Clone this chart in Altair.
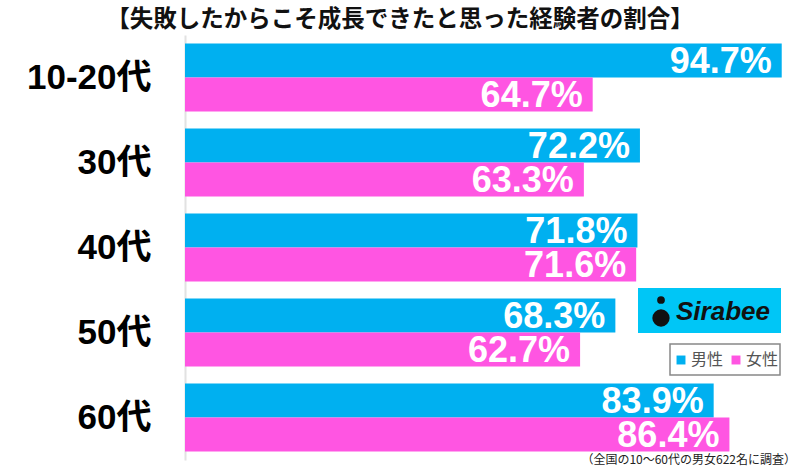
import altair as alt
import pandas as pd

categories = ["10-20代", "30代", "40代", "50代", "60代"]
male = [94.7, 72.2, 71.8, 68.3, 83.9]
female = [64.7, 63.3, 71.6, 62.7, 86.4]
series = ["男性", "女性"]
colors = ["#00B0F0", "#FF55E2"]
title_text = "【失敗したからこそ成長できたと思った経験者の割合】"
note_text = "（全国の10～60代の男女622名に調査）"

rows = []
for c, m, f in zip(categories, male, female):
    rows.append({"cat": c, "sex": series[0], "v": m})
    rows.append({"cat": c, "sex": series[1], "v": f})
df = pd.DataFrame(rows)
df["label"] = df["v"].map(lambda v: f"{v:.1f}%")

FONT = "Liberation Sans, Noto Sans CJK JP, sans-serif"
JP = "Noto Sans CJK JP, sans-serif"

W, H = 615, 425

y_enc = alt.Y("cat:N", sort=categories, title=None,
              scale=alt.Scale(paddingInner=0.2, paddingOuter=0.1),
              axis=alt.Axis(labelFontSize=35, labelFont=FONT, labelFontWeight="bold",
                            labelColor="#000", labelPadding=34, ticks=False,
                            domainColor="#e2e2e2", domainWidth=2))
yo_enc = alt.YOffset("sex:N", sort=series, scale=alt.Scale(paddingInner=0, paddingOuter=0))
x_enc = alt.X("v:Q", scale=alt.Scale(domain=[0, 97.6]), axis=None)

base = alt.Chart(df)
bars = base.mark_bar().encode(
    x=x_enc, y=y_enc, yOffset=yo_enc,
    color=alt.Color("sex:N", sort=series, scale=alt.Scale(domain=series, range=colors), legend=None),
)
labels = base.mark_text(align="right", baseline="middle", dx=-10, dy=1, fontSize=36,
                        font=FONT, fontWeight="bold", color="white").encode(
    x=x_enc, y=y_enc, yOffset=yo_enc, text="label:N")

one = pd.DataFrame({"t": [0]})
title = alt.Chart(pd.DataFrame({"t": [title_text]})).mark_text(
    fontSize=23.5, font=JP, fontWeight="bold", color="#111", baseline="middle", align="center"
).encode(x=alt.value(215), y=alt.value(-15), text="t:N")
note = alt.Chart(pd.DataFrame({"t": [note_text]})).mark_text(
    fontSize=12, font=JP, color="#222", baseline="middle", align="right"
).encode(x=alt.value(611), y=alt.value(425), text="t:N")

logo_box = alt.Chart(one).mark_rect(color="#00C6F6").encode(
    x=alt.value(453), x2=alt.value(596), y=alt.value(253), y2=alt.value(298))
logo_body = alt.Chart(one).mark_point(filled=True, shape="circle", color="#111", size=300, opacity=1).encode(
    x=alt.value(476), y=alt.value(283))
logo_head = alt.Chart(one).mark_point(filled=True, shape="circle", color="#111", size=60, opacity=1).encode(
    x=alt.value(476), y=alt.value(265))
logo_text = alt.Chart(pd.DataFrame({"t": ["Sirabee"]})).mark_text(
    fontSize=26, font=FONT, fontWeight="bold", fontStyle="italic", color="#111",
    align="left", baseline="middle").encode(x=alt.value(491), y=alt.value(277), text="t:N")

leg_box = alt.Chart(one).mark_rect(fill="white", stroke="#888", strokeWidth=1.5).encode(
    x=alt.value(485), x2=alt.value(595), y=alt.value(309), y2=alt.value(340))
leg_df = pd.DataFrame({"sex": series, "px": [496, 551], "tx": [506, 561]})
leg_sq = alt.Chart(leg_df).mark_point(filled=True, shape="square", size=80, opacity=1).encode(
    x=alt.X("px:Q", scale=None), y=alt.value(325),
    color=alt.Color("sex:N", sort=series, scale=alt.Scale(domain=series, range=colors), legend=None))
leg_tx = alt.Chart(leg_df).mark_text(fontSize=16, font=JP, color="#555", align="left", baseline="middle").encode(
    x=alt.X("tx:Q", scale=None), y=alt.value(325), text="sex:N")

chart = alt.layer(bars, labels, title, note, logo_box, logo_body, logo_head, logo_text,
                  leg_box, leg_sq, leg_tx).properties(
    width=W, height=H,
    autosize=alt.AutoSizeParams(type="none"),
    padding={"left": 185, "top": 35, "right": 0, "bottom": 6},
).configure_view(stroke=None).resolve_scale(x="independent")

chart.save("out.html", embed_options={"renderer": "svg", "actions": False})
